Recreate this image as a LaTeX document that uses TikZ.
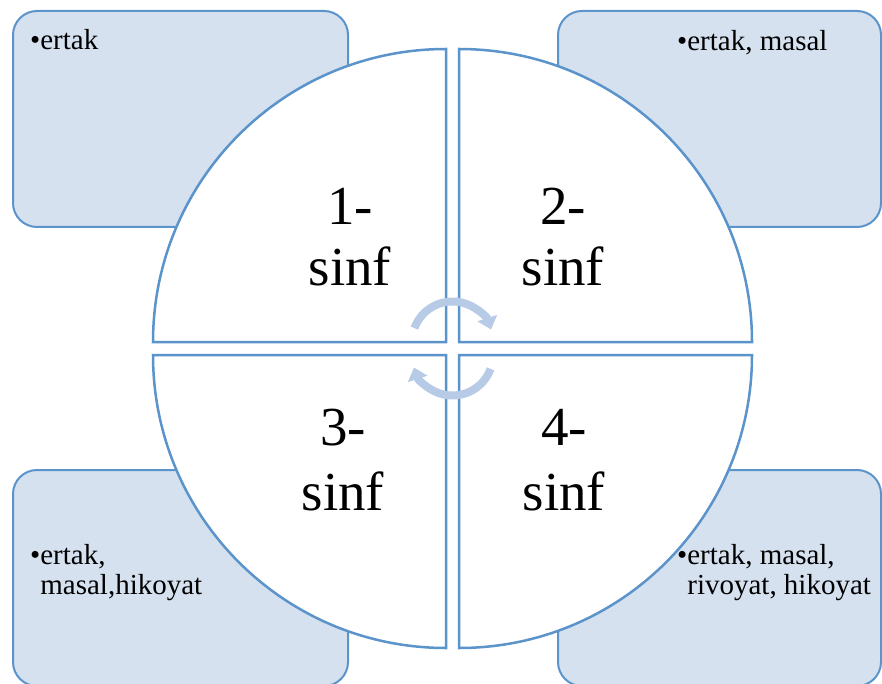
\documentclass[tikz,border=0pt]{standalone}
\usepackage{fontspec}
\setmainfont{Liberation Serif}
\usetikzlibrary{arrows.meta}
\definecolor{skblue}{HTML}{5B93CB}
\definecolor{skfill}{HTML}{D6E1F0}
\definecolor{skarrow}{HTML}{B7CBE7}

\begin{document}
\begin{tikzpicture}[x=1pt,y=-1pt,
  notebox/.style={draw=skblue,fill=skfill,line width=2pt,rounded corners=24pt},
  quarter/.style={draw=skblue,fill=white,line width=2.5pt},
  cycarrow/.style={draw=skarrow,line width=8pt,-{Triangle[length=12pt,width=20pt]}},
  gradetext/.style={font=\fontsize{55}{#1}\selectfont,align=center,anchor=base,inner sep=0pt},
  listtext/.style={font=\fontsize{29}{29.5}\selectfont,align=left,anchor=base west,inner sep=0pt}]
\clip (0,0) rectangle (882,684);
% boxes behind the circle
\draw[notebox] (13,11) rectangle (348,227);
\draw[notebox] (558,11) rectangle (881,227);
\draw[notebox] (13,470) rectangle (348,686);
\draw[notebox] (558,470) rectangle (881,686);
% four quarters of the circle
\draw[quarter] (446,342) -- (153,342) arc[start angle=180,end angle=270,radius=293] -- cycle;
\draw[quarter] (459,342) -- (459,49) arc[start angle=270,end angle=360,radius=293] -- cycle;
\draw[quarter] (459,355) -- (752,355) arc[start angle=0,end angle=90,radius=293] -- cycle;
\draw[quarter] (446,355) -- (446,648) arc[start angle=90,end angle=180,radius=293] -- cycle;
% circular arrows in the middle
\coordinate (topc) at (452.5,342);
\coordinate (botc) at (452.5,355);
\draw[cycarrow] (topc) ++(-160:40.5) arc[start angle=-160,end angle=-18,radius=40.5];
\draw[cycarrow] (botc) ++(20:40.5) arc[start angle=20,end angle=162,radius=40.5];
% labels (base = last line)
\node[gradetext=61] (g1) at (350,285) {1-\\sinf};
\node[gradetext=61] (g2) at (563,285) {2-\\sinf};
\node[gradetext=65] (g3) at (343,510) {3-\\sinf};
\node[gradetext=65] (g4) at (564,510) {4-\\sinf};
\node[listtext] (l1) at (30,50) {•ertak};
\node[listtext] (l2) at (677,51) {•ertak, masal};
\node[listtext] (l3) at (30,594) {•ertak,\\\phantom{•}masal,hikoyat};
\node[listtext] (l4) at (677,594) {•ertak, masal,\\\phantom{•}rivoyat, hikoyat};
\end{tikzpicture}
\end{document}
